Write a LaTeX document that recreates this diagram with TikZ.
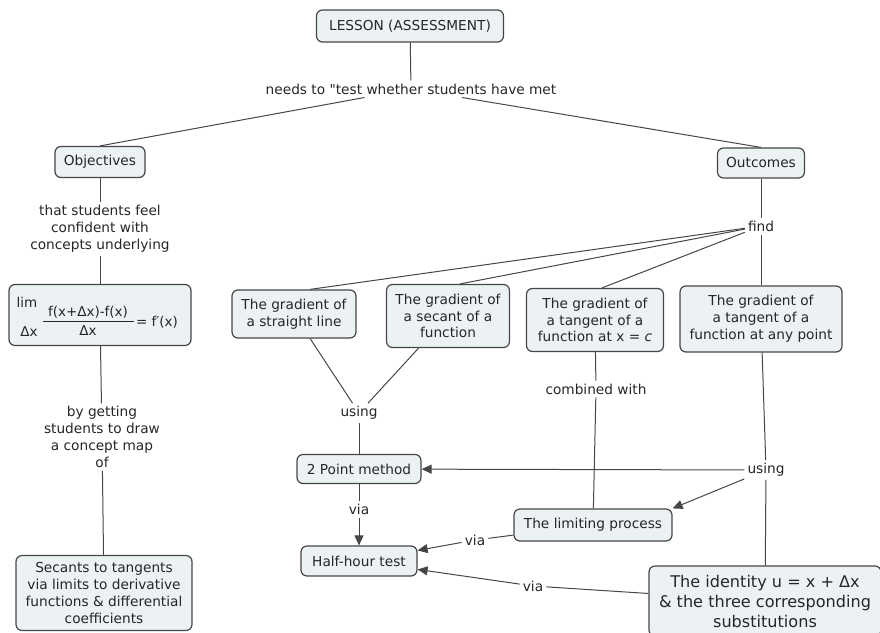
\documentclass[tikz,border=0pt]{standalone}
\usepackage{fontspec}
\newfontfamily\mapfont{DejaVu Sans}
\usetikzlibrary{arrows.meta}

\definecolor{boxfill}{RGB}{236,242,244}
\definecolor{boxline}{RGB}{70,70,70}
\definecolor{ink}{RGB}{38,38,38}

\tikzset{
  concept/.style={draw=boxline, fill=boxfill, rounded corners=6pt, line width=1.2pt,
    align=center, text=ink, inner sep=3pt, font=\mapfont\fontsize{13.7}{16.8}\selectfont},
  phrase/.style={align=center, text=ink, inner sep=3pt, font=\mapfont\fontsize{13.7}{16.8}\selectfont},
  link/.style={draw=boxline, line width=1pt},
  linkto/.style={link, -{Triangle[length=10pt,width=9pt]}},
  formula/.style={text=ink, inner sep=0pt, font=\mapfont\fontsize{13.5}{15}\selectfont}
}

\begin{document}
\begin{tikzpicture}[x=1pt, y=-1pt]
  \coordinate (LT) at (0,0);
  \coordinate (RB) at (880,632);
  \useasboundingbox (LT) rectangle (RB);
  \clip (LT) rectangle (RB);

  % concepts
  \node[concept, minimum width=187, minimum height=32] (lesson) at (410,26) {LESSON (ASSESSMENT)};
  \node[concept, minimum width=90, minimum height=31] (objectives) at (100,162) {Objectives};
  \node[concept, minimum width=87, minimum height=30] (outcomes) at (761,163) {Outcomes};
  \node[concept, minimum width=182, minimum height=61] (limit) at (100,315) {};
  \node[concept, minimum width=176, minimum height=75] (secants) at (104,593)
    {Secants to tangents\\via limits to derivative\\functions \& differential\\coefficients};
  \node[concept, minimum width=124, minimum height=48] (straight) at (294,314) {The gradient of\\a straight line};
  \node[concept, minimum width=123, minimum height=63] (secant) at (448,316) {The gradient of\\a secant of a\\function};
  \node[concept, minimum width=137, minimum height=63] (tangentc) at (595,320) {The gradient of\\a tangent of a\\function at x = \textit{c}};
  \node[concept, minimum width=162, minimum height=66] (tangentany) at (761,319) {The gradient of\\a tangent of a\\function at any point};
  \node[concept, minimum width=124, minimum height=29] (twopoint) at (359,469) {2 Point method};
  \node[concept, minimum width=116, minimum height=30] (halfhour) at (359,561) {Half-hour test};
  \node[concept, minimum width=158, minimum height=32] (limiting) at (593,525) {The limiting process};
  \node[concept, minimum width=232, minimum height=70, font=\mapfont\fontsize{16.1}{20}\selectfont] (identity) at (765,601)
    {The identity u = x + Δx\\\& the three corresponding\\substitutions};

  % the limit definition inside its box
  \node[formula] (lim) at (27,302) {lim};
  \node[formula] (dxlim) at (29,332) {Δx};
  \node[formula] (numer) at (88,312) {f(x+Δx)-f(x)};
  \node[formula] (denom) at (88,331) {Δx};
  \node[formula] (deriv) at (157,322) {= f′(x)};
  \draw[ink, line width=0.8pt] (43,321) -- (134,321);

  % linking phrases
  \node[phrase] (needs) at (411,89) {needs to "test whether students have met};
  \node[phrase] (feel) at (100,229) {that students feel\\confident with\\concepts underlying};
  \node[phrase] (drawmap) at (102,437) {by getting\\students to draw\\a concept map\\of};
  \node[phrase] (find) at (761,226) {find};
  \node[phrase] (usingA) at (359,413) {using};
  \node[phrase] (viaA) at (359,509) {via};
  \node[phrase] (combined) at (596,389) {combined with};
  \node[phrase] (usingB) at (766,470) {using};
  \node[phrase] (viaB) at (475,540) {via};
  \node[phrase] (viaC) at (533,586) {via};

  % connections
  \draw[link] (lesson) -- (needs);
  \draw[link] (needs) -- (objectives.north);
  \draw[link] (needs) -- (outcomes.north);
  \draw[link] (objectives) -- (feel);
  \draw[link] (feel) -- (limit);
  \draw[link] (limit) -- (drawmap);
  \draw[link] (drawmap) -- (secants);
  \draw[link] (outcomes) -- (find);
  \draw[link] (find) -- ([xshift=16]straight.north);
  \draw[link] (find) -- ([xshift=12]secant.north);
  \draw[link] (find) -- ([xshift=7]tangentc.north);
  \draw[link] (find) -- (tangentany);
  \draw[link] (straight) -- (usingA);
  \draw[link] (secant) -- (usingA);
  \draw[link] (usingA) -- (twopoint);
  \draw[link] (twopoint) -- (viaA);
  \draw[linkto] (viaA) -- (halfhour);
  \draw[link] (tangentc) -- (combined);
  \draw[link] (combined) -- (limiting);
  \draw[link] (tangentany) -- (usingB);
  \draw[linkto] (usingB) -- (twopoint);
  \draw[linkto] (usingB) -- (limiting.north east);
  \draw[link] (usingB) -- (identity);
  \draw[link] (limiting) -- (viaB);
  \draw[linkto] (viaB) -- (halfhour);
  \draw[link] (identity) -- (viaC);
  \draw[linkto] (viaC) -- (halfhour);
\end{tikzpicture}
\end{document}
